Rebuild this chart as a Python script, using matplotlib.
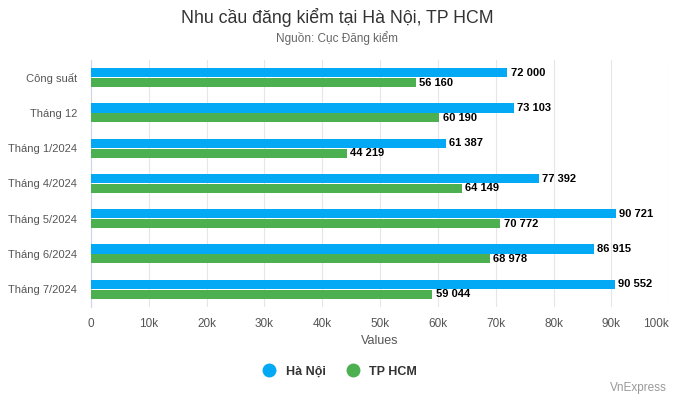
import numpy as np
import matplotlib.pyplot as plt
from matplotlib.lines import Line2D

plt.rcParams["font.family"] = ["Liberation Sans", "DejaVu Sans"]

categories = ["Công suất", "Tháng 12", "Tháng 1/2024", "Tháng 4/2024",
              "Tháng 5/2024", "Tháng 6/2024", "Tháng 7/2024"]
ha_noi = [72000, 73103, 61387, 77392, 90721, 86915, 90552]
tp_hcm = [56160, 60190, 44219, 64149, 70772, 68978, 59044]
series_names = ["Hà Nội", "TP HCM"]
colors = ["#03a9f4", "#4caf50"]


def fmt(v):
    return f"{v:,}".replace(",", " ")


def main():
    fig = plt.figure(figsize=(6.74, 3.98), dpi=100)
    ax = fig.add_axes([0.135, 0.229, 0.858, 0.62])

    y = np.arange(len(categories))
    h = 0.26
    off = 0.14
    for vals, c, dy in [(ha_noi, colors[0], -off), (tp_hcm, colors[1], off)]:
        ax.barh(y + dy, vals, height=h, color=c, zorder=3)
        for yi, v in zip(y, vals):
            ax.text(v + 600, yi + dy, fmt(v), va="center", ha="left",
                    fontsize=8, fontweight="bold", color="black", zorder=4)

    ax.set_ylim(len(categories) - 0.5, -0.5)
    ax.set_xlim(0, 100000)
    ax.set_yticks(y)
    ax.set_yticklabels(categories, fontsize=8, color="#555555")
    ticks = np.arange(0, 100001, 10000)
    ax.set_xticks(ticks)
    ax.set_xticklabels(["0"] + [f"{int(t/1000)}k" for t in ticks[1:]],
                       fontsize=8.5, color="#555555")
    ax.get_xticklabels()[-1].set_ha("right")
    ax.tick_params(axis="both", length=0)
    ax.tick_params(axis="x", pad=8)
    ax.tick_params(axis="y", pad=10)
    ax.grid(axis="x", color="#e6e6e6", linewidth=0.8, zorder=0)
    for s in ["top", "right", "bottom"]:
        ax.spines[s].set_visible(False)
    ax.spines["left"].set_color("#ccd6eb")
    ax.set_xlabel("Values", fontsize=9, color="#555555")
    ax.xaxis.set_label_coords(0.5, -0.115)

    fig.text(0.5, 0.955, "Nhu cầu đăng kiểm tại Hà Nội, TP HCM",
             ha="center", va="center", fontsize=12.8, color="#333333")
    fig.text(0.5, 0.905, "Nguồn: Cục Đăng kiểm",
             ha="center", va="center", fontsize=8.5, color="#666666")

    handles = [Line2D([], [], marker="o", linestyle="", markersize=9,
                      markerfacecolor=c, markeredgecolor=c) for c in colors]
    leg = fig.legend(handles, series_names, loc="center",
                     bbox_to_anchor=(0.5, 0.066), ncol=2, frameon=False,
                     handletextpad=0.3, columnspacing=1.2, fontsize=9)
    for t in leg.get_texts():
        t.set_fontweight("bold")
        t.set_color("#333333")

    fig.text(0.99, 0.01, "VnExpress", ha="right", va="bottom",
             fontsize=8.5, color="#999999")

    fig.savefig("out.png", dpi=100)
    plt.close(fig)


if __name__ == "__main__":
    main()
